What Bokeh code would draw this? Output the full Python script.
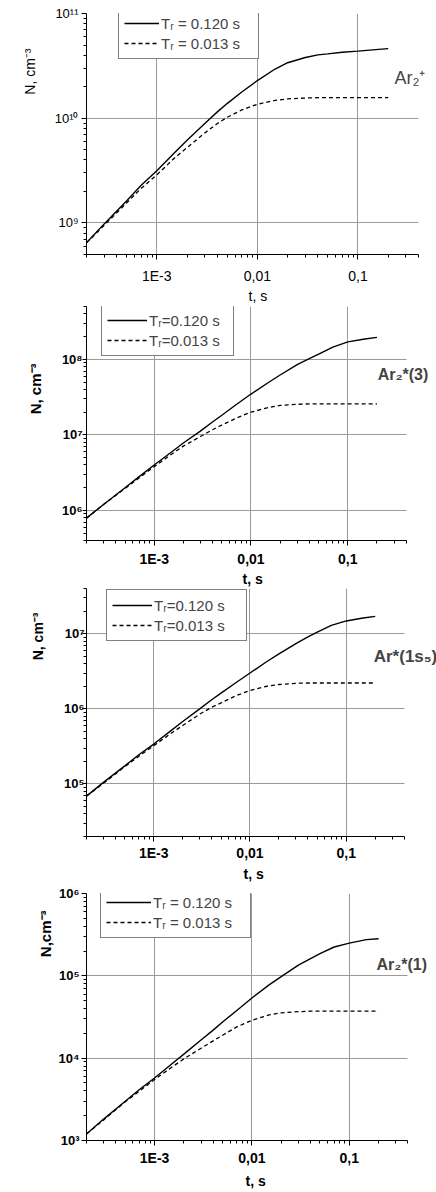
import math
from bokeh.plotting import figure
from bokeh.models import (Range1d, FixedTicker, CustomJSTickFormatter, Label, Title,
                          Legend, LegendItem)
from bokeh.layouts import column
from bokeh.embed import file_html
from bokeh.resources import INLINE

# ---------------- data ----------------
t_s = [2e-4, 3e-4, 5e-4, 7e-4, 1e-3, 1.5e-3, 2e-3, 3e-3, 4e-3, 5e-3, 7e-3,
       1e-2, 1.5e-2, 2e-2, 3e-2, 4e-2, 5e-2, 7e-2, 0.1, 0.15, 0.2]

ar2p_slow = [6.46e8, 9.8e8, 1.62e9, 2.29e9, 3.16e9, 4.68e9, 6.17e9, 8.9e9, 1.15e10, 1.38e10, 1.78e10,
             2.29e10, 2.95e10, 3.39e10, 3.8e10, 4.03e10, 4.12e10, 4.27e10, 4.37e10, 4.52e10, 4.62e10]
ar2p_fast = [6.46e8, 9.5e8, 1.55e9, 2.14e9, 2.88e9, 4.17e9, 5.25e9, 7.24e9, 8.9e9, 1.02e10, 1.2e10,
             1.36e10, 1.48e10, 1.53e10, 1.56e10, 1.57e10, 1.57e10, 1.57e10, 1.57e10, 1.57e10, 1.57e10]

ar2_3_slow = [7.9e5, 1.2e6, 2.0e6, 2.8e6, 4.0e6, 5.9e6, 7.8e6, 1.12e7, 1.48e7, 1.82e7, 2.5e7,
              3.47e7, 4.9e7, 6.2e7, 8.5e7, 1.02e8, 1.17e8, 1.45e8, 1.7e8, 1.86e8, 1.95e8]
ar2_3_fast = [7.9e5, 1.2e6, 1.95e6, 2.7e6, 3.8e6, 5.5e6, 7.1e6, 9.5e6, 1.17e7, 1.35e7, 1.66e7,
              2.0e7, 2.29e7, 2.45e7, 2.54e7, 2.57e7, 2.57e7, 2.57e7, 2.57e7, 2.57e7, 2.57e7]

ar1s5_slow = [6.9e4, 1.05e5, 1.74e5, 2.45e5, 3.4e5, 5.1e5, 6.8e5, 1.0e6, 1.32e6, 1.62e6, 2.19e6,
              3.0e6, 4.27e6, 5.4e6, 7.4e6, 9.1e6, 1.05e7, 1.29e7, 1.48e7, 1.62e7, 1.7e7]
ar1s5_fast = [6.9e4, 1.02e5, 1.7e5, 2.34e5, 3.24e5, 4.68e5, 6.0e5, 8.5e5, 1.05e6, 1.2e6, 1.48e6,
              1.76e6, 2.0e6, 2.11e6, 2.19e6, 2.21e6, 2.21e6, 2.21e6, 2.21e6, 2.21e6, 2.21e6]

ar2_1_slow = [1.2e3, 1.82e3, 3.0e3, 4.17e3, 5.75e3, 8.5e3, 1.12e4, 1.66e4, 2.19e4, 2.75e4, 3.8e4,
              5.37e4, 7.76e4, 9.8e4, 1.35e5, 1.62e5, 1.86e5, 2.24e5, 2.5e5, 2.75e5, 2.82e5]
ar2_1_fast = [1.2e3, 1.78e3, 2.95e3, 3.98e3, 5.5e3, 7.76e3, 9.8e3, 1.32e4, 1.62e4, 1.9e4, 2.4e4,
              2.88e4, 3.35e4, 3.55e4, 3.67e4, 3.72e4, 3.72e4, 3.72e4, 3.72e4, 3.72e4, 3.72e4]

x_tick_values = [1e-3, 1e-2, 1e-1]
x_tick_labels = ["1E-3", "0,01", "0,1"]

y_ticks_1 = [1e9, 1e10, 1e11]
y_labels_1 = ["10⁹", "10¹⁰", "10¹¹"]
y_ticks_2 = [1e6, 1e7, 1e8]
y_labels_2 = ["10⁶", "10⁷", "10⁸"]
y_ticks_3 = [1e5, 1e6, 1e7]
y_labels_3 = ["10⁵", "10⁶", "10⁷"]
y_ticks_4 = [1e3, 1e4, 1e5, 1e6]
y_labels_4 = ["10³", "10⁴", "10⁵", "10⁶"]

species = ["Ar₂⁺", "Ar₂*(3)", "Ar*(1s₅)", "Ar₂*(1)"]
legend_slow = ["Tᵣ = 0.120 s", "Tᵣ=0.120 s", "Tᵣ=0.120 s", "Tᵣ = 0.120 s"]
legend_fast = ["Tᵣ = 0.013 s", "Tᵣ=0.013 s", "Tᵣ=0.013 s", "Tᵣ = 0.013 s"]
y_titles = ["N, cm⁻³", "N, cm⁻³", "N, cm⁻³", "N,cm⁻³"]
x_title = "t, s"

x_axis_span = (2e-4, 0.4)

# ---------------- layout (page pixel geometry) ----------------
FONT = "Liberation Sans"
NB = "\u00a0"
FIG_W = 436

# frame = (left, axis right end, top, bottom) in page pixels
panels = [
    dict(top=0, height=305, frame=(86, 418, 13, 257), yr=(5e8, 1e11),
         slow=ar2p_slow, fast=ar2p_fast, yt=y_ticks_1, yl=y_labels_1,
         style="normal", ytick_out=5, ystand=3, xstand=8,
         leg=(118, 12), gw=35, pad=3, spec=(394, 78, "18px"),
         ytitle=dict(size="14px", offset=35, standoff=26),
         xtitle=dict(size="14px", offset=162, standoff=1)),
    dict(top=305, height=282, frame=(79, 405, 306, 543), yr=(4e5, 5e8),
         slow=ar2_3_slow, fast=ar2_3_fast, yt=y_ticks_2, yl=y_labels_2,
         style="bold", ytick_out=4, ystand=0, xstand=5,
         leg=(94, 309), gw=40, pad=2, spec=(376, 375, "16px"),
         ytitle=dict(size="15px", offset=57, standoff=28),
         xtitle=dict(size="14px", offset=156, standoff=0)),
    dict(top=587, height=297, frame=(68, 402, 588, 839), yr=(2e4, 4e7),
         slow=ar1s5_slow, fast=ar1s5_fast, yt=y_ticks_3, yl=y_labels_3,
         style="bold", ytick_out=4, ystand=-2, xstand=3,
         leg=(88, 594), gw=40, pad=4, spec=(370, 657, "17px"),
         ytitle=dict(size="14px", offset=24, standoff=27),
         xtitle=dict(size="14px", offset=157, standoff=3)),
    dict(top=884, height=308, frame=(69, 406, 893, 1143), yr=(1e3, 1e6),
         slow=ar2_1_slow, fast=ar2_1_fast, yt=y_ticks_4, yl=y_labels_4,
         style="bold", ytick_out=5, ystand=2, xstand=4,
         leg=(83, 891), gw=45, pad=3, spec=(373, 965, "16px"),
         ytitle=dict(size="15px", offset=17, standoff=2),
         xtitle=dict(size="14px", offset=159, standoff=6)),
]


def minor_ticks(lo, hi):
    out = []
    for d in range(math.floor(math.log10(lo)) - 1, math.ceil(math.log10(hi)) + 1):
        for m in range(2, 10):
            v = m * 10 ** d
            if lo <= v <= hi:
                out.append(v)
    return out


def formatter(tvals, tlabels):
    return CustomJSTickFormatter(args=dict(tv=tvals, tl=tlabels), code="""
        for (let i = 0; i < tv.length; i++) {
            if (Math.abs(Math.log10(tv[i]) - Math.log10(tick)) < 1e-6) return tl[i];
        }
        return "";
    """)


def px_to_logx(cfg, px):
    L, R, T, B = cfg["frame"]
    x0, x1 = x_axis_span
    return math.log10(x0) + (px - L) / (R - L) * (math.log10(x1) - math.log10(x0))


def to_data(cfg, px, py):
    L, R, T, B = cfg["frame"]
    y0, y1 = cfg["yr"]
    ly = math.log10(y0) + (B - py) / (B - T) * (math.log10(y1) - math.log10(y0))
    return 10 ** px_to_logx(cfg, px), 10 ** ly


figs = []
for i, cfg in enumerate(panels):
    L, R, T, B = cfg["frame"]
    top, H = cfg["top"], cfg["height"]
    x_end = 10 ** px_to_logx(cfg, FIG_W)   # frame reaches the right edge; axis stops at 0.4
    p = figure(width=FIG_W, height=H, x_axis_type="log", y_axis_type="log",
               x_range=Range1d(x_axis_span[0], x_end), y_range=Range1d(*cfg["yr"]),
               output_backend="svg", toolbar_location=None,
               min_border_left=L, min_border_right=0,
               min_border_top=T - top, min_border_bottom=top + H - B)
    p.outline_line_color = None
    p.background_fill_color = "white"
    p.border_fill_color = "white"

    xt = FixedTicker(ticks=x_tick_values, minor_ticks=minor_ticks(*x_axis_span))
    yt = FixedTicker(ticks=cfg["yt"], minor_ticks=minor_ticks(*cfg["yr"]))
    p.xaxis.ticker = xt
    p.yaxis.ticker = yt
    p.xgrid.ticker = xt
    p.ygrid.ticker = yt
    p.xaxis.bounds = x_axis_span
    p.xaxis.formatter = formatter(x_tick_values, x_tick_labels)
    p.yaxis.formatter = formatter(cfg["yt"], cfg["yl"])

    for ax in (p.xaxis[0], p.yaxis[0]):
        ax.axis_line_color = "black"
        ax.axis_line_width = 1
        ax.major_tick_line_color = "black"
        ax.minor_tick_line_color = "black"
        ax.major_tick_in = 0
        ax.minor_tick_in = 0
        ax.major_label_text_font = FONT
        ax.major_label_text_font_style = cfg["style"]
        ax.major_label_text_color = "black"
    p.xaxis.major_tick_out = 5
    p.xaxis.minor_tick_out = 3
    p.xaxis.major_label_text_font_size = "14px"
    p.xaxis.major_label_standoff = cfg["xstand"]
    p.yaxis.major_tick_out = cfg["ytick_out"]
    p.yaxis.minor_tick_out = 3
    p.yaxis.major_label_text_font_size = "13px"
    p.yaxis.major_label_standoff = cfg["ystand"]

    GRID = "#9a9a9a"
    p.xgrid.grid_line_color = GRID
    p.ygrid.grid_line_color = GRID
    try:
        p.ygrid.cross_bounds = x_axis_span
    except Exception:
        p.ygrid.visible = False
        n = len(cfg["yt"])
        p.segment(x0=[x_axis_span[0]] * n, y0=cfg["yt"], x1=[x_axis_span[1]] * n, y1=cfg["yt"],
                  line_color=GRID, line_width=1, level="underlay")

    r_slow = p.line(t_s, cfg["slow"], line_color="black", line_width=1.4)
    r_fast = p.line(t_s, cfg["fast"], line_color="black", line_width=1.3, line_dash="4 3")

    lx, ly = cfg["leg"]
    leg_h = 50
    legend = Legend(items=[LegendItem(label=legend_slow[i] + NB * cfg["pad"], renderers=[r_slow]),
                           LegendItem(label=legend_fast[i] + NB * cfg["pad"], renderers=[r_fast])],
                    location=(lx - L, B - (ly + leg_h)),
                    border_line_color="black", border_line_width=1,
                    background_fill_color="white", background_fill_alpha=1,
                    padding=5, spacing=0, margin=0,
                    label_height=20, glyph_height=20, glyph_width=cfg["gw"], label_standoff=2,
                    label_text_font=FONT, label_text_font_size="15px")
    p.add_layout(legend)

    sx, sy, ssz = cfg["spec"]
    dx, dy = to_data(cfg, sx, sy)
    p.add_layout(Label(x=dx, y=dy, text=species[i], text_font=FONT, text_font_size=ssz,
                       text_font_style=cfg["style"], text_align="left", text_baseline="alphabetic"))

    yt_cfg = cfg["ytitle"]
    p.add_layout(Title(text=y_titles[i], align="right", vertical_align="middle",
                       offset=yt_cfg["offset"], standoff=yt_cfg["standoff"],
                       text_font=FONT, text_font_size=yt_cfg["size"],
                       text_font_style=cfg["style"], text_color="black"), "left")
    xt_cfg = cfg["xtitle"]
    p.add_layout(Title(text=x_title, align="left", vertical_align="middle",
                       offset=xt_cfg["offset"], standoff=xt_cfg["standoff"],
                       text_font=FONT, text_font_size=xt_cfg["size"],
                       text_font_style=cfg["style"], text_color="black"), "below")
    figs.append(p)

layout = column(*figs, spacing=0)
open("out.html", "w").write(file_html(layout, INLINE))
